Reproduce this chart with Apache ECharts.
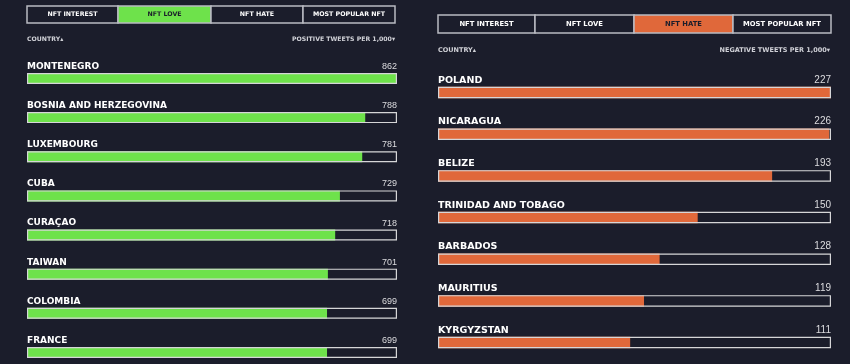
<!DOCTYPE html>
<html><head><meta charset="utf-8">
<script src="https://cdn.jsdelivr.net/npm/echarts@6/dist/echarts.min.js"></script>
<style>html,body{margin:0;padding:0;background:#1b1d2b;overflow:hidden;}#c{width:850px;height:420px;}</style>
</head><body><div id="c"></div>
<script>
const loveCountries = ['MONTENEGRO','BOSNIA AND HERZEGOVINA','LUXEMBOURG','CUBA','CURAÇAO','TAIWAN','COLOMBIA','FRANCE'];
const loveValues = [862, 788, 781, 729, 718, 701, 699, 699];
const hateCountries = ['POLAND','NICARAGUA','BELIZE','TRINIDAD AND TOBAGO','BARBADOS','MAURITIUS','KYRGYZSTAN'];
const hateValues = [227, 226, 193, 150, 128, 119, 111];
const tabLabels = ['NFT INTEREST','NFT LOVE','NFT HATE','MOST POPULAR NFT'];
const loveHeader = ['COUNTRY\u25B4', 'POSITIVE TWEETS PER 1,000\u25BE'];
const hateHeader = ['COUNTRY\u25B4', 'NEGATIVE TWEETS PER 1,000\u25BE'];

const BG = '#1b1d2b', GREEN = '#6ee24b', ORANGE = '#e0683a';
const FONT = '"Liberation Sans", Arial, sans-serif';
const HEAVY = '"DejaVu Sans", "Liberation Sans", sans-serif';
const loveMax = Math.max(...loveValues), hateMax = Math.max(...hateValues);

function tabs(xs, y, h, active, color, fs) {
  const els = [];
  for (let i = 0; i < 4; i++) {
    els.push({type:'rect', shape:{x:xs[i], y:y, width:xs[i+1]-xs[i], height:h},
      style:{fill: i===active ? color : BG, stroke:'#b9bac2', lineWidth:1.5}});
    els.push({type:'text', x:(xs[i]+xs[i+1])/2, y:y+h/2,
      style:{text:tabLabels[i], fill: i===active ? '#1b1d2b' : '#ffffff', font:'bold '+fs+'px '+HEAVY, align:'center', verticalAlign:'middle'}});
  }
  return els;
}

function barSeries(idx, values, names, max, color, fsName, fsVal, bw) {
  return [
    {type:'bar', xAxisIndex:idx, yAxisIndex:idx, data:values, barWidth:bw, z:2,
     itemStyle:{color:color}, silent:true,
     label:{show:true, position:[0,-2], align:'left', verticalAlign:'bottom', lineHeight:fsName,
       formatter:p=>names[p.dataIndex], color:'#ffffff', fontWeight:'bold', fontSize:fsName, fontFamily:HEAVY}},
    {type:'bar', xAxisIndex:idx, yAxisIndex:idx, data:values.map(()=>max), barWidth:bw, barGap:'-100%', z:3,
     itemStyle:{color:'rgba(0,0,0,0)', borderColor:'#d6d6d8', borderWidth:1.2}, silent:true,
     label:{show:true, position:['100%',-2], align:'right', verticalAlign:'bottom', lineHeight:fsVal,
       formatter:p=>String(values[p.dataIndex]), color:'#dcdcdf', fontSize:fsVal, fontFamily:FONT}}
  ];
}

const chart = echarts.init(document.getElementById('c'), null, {renderer:'canvas'});
chart.setOption({
  backgroundColor: BG,
  animation:false,
  grid:[
    {left:27, width:370, top:58.9, height:313.1},
    {left:438, width:393, top:71.7, height:291.7}
  ],
  xAxis:[
    {gridIndex:0, type:'value', min:0, max:loveMax, show:false},
    {gridIndex:1, type:'value', min:0, max:hateMax, show:false}
  ],
  yAxis:[
    {gridIndex:0, type:'category', data:loveCountries, inverse:true, show:false},
    {gridIndex:1, type:'category', data:hateCountries, inverse:true, show:false}
  ],
  series:[
    ...barSeries(0, loveValues, loveCountries, loveMax, GREEN, 9, 9, 11),
    ...barSeries(1, hateValues, hateCountries, hateMax, ORANGE, 9.5, 10, 11.5)
  ],
  graphic:[
    ...tabs([27,118,211,303,395], 6, 17, 1, GREEN, 6.3),
    ...tabs([438,535,634,733,831], 15, 18, 2, ORANGE, 6.8),
    {type:'text', x:27, y:39, style:{text:loveHeader[0], fill:'#d0d1d7', font:'bold 6.2px '+HEAVY, verticalAlign:'middle'}},
    {type:'text', x:395, y:39, style:{text:loveHeader[1], fill:'#d0d1d7', font:'bold 6.2px '+HEAVY, align:'right', verticalAlign:'middle'}},
    {type:'text', x:438, y:50, style:{text:hateHeader[0], fill:'#d0d1d7', font:'bold 6.5px '+HEAVY, verticalAlign:'middle'}},
    {type:'text', x:830, y:50, style:{text:hateHeader[1], fill:'#d0d1d7', font:'bold 6.5px '+HEAVY, align:'right', verticalAlign:'middle'}}
  ]
});
</script></body></html>
